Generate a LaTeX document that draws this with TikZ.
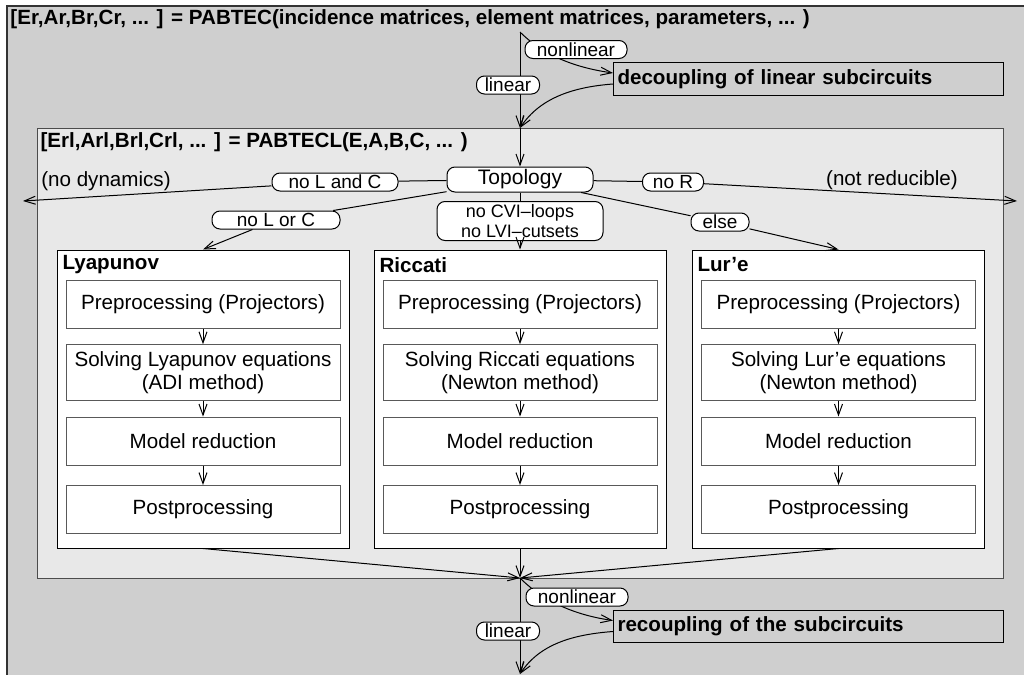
\documentclass[tikz,border=0pt]{standalone}
\usepackage{fontspec}
\setmainfont{Liberation Sans}
\usetikzlibrary{arrows.meta}
\definecolor{outergray}{RGB}{207,207,207}
\definecolor{innergray}{RGB}{232,232,232}
\tikzset{
  flow/.style={-{Straight Barb[length=5.5pt,width=4pt]}},
  pill/.style={draw, fill=white, rounded corners=4pt, inner sep=0.5pt, minimum height=9pt, font=\fontsize{9.5}{10}\selectfont},
  method/.style={draw, fill=white, minimum width=146pt, minimum height=149pt},
  stepbox/.style={draw=black!65, fill=white, minimum width=137pt, minimum height=24pt, align=center, font=\fontsize{10.3}{11.5}\selectfont},
  couple/.style={draw, fill=outergray, anchor=west, minimum height=15pt, text width=191pt, align=left, inner xsep=2pt, font=\fontsize{10.3}{12}\bfseries},
  heading/.style={anchor=west, inner sep=0pt, font=\fontsize{10.3}{12}\bfseries},
  remark/.style={font=\fontsize{10.3}{12}\selectfont},
}
\begin{document}
\begin{tikzpicture}[x=0.5pt, y=-0.5pt, line width=0.5pt]
  \useasboundingbox (0,0) rectangle (1024,675);
  \clip (0,0) rectangle (1024,675);

  % frames
  \draw[fill=outergray, draw=black!80, line width=0.6pt] (7,6) rectangle (1040,700);
  \draw[fill=innergray, draw=black!70, line width=0.5pt] (37,128) rectangle (1003,578);

  % titles
  \node[heading] (pabtec) at (10,19) {[Er,Ar,Br,Cr, ... ] = PABTEC(incidence matrices, element matrices, parameters, ... )};
  \node[heading] (pabtecl) at (40,142) {[Erl,Arl,Brl,Crl, ... ] = PABTECL(E,A,B,C, ... )};

  % decoupling
  \coordinate (split) at (520,32);
  \coordinate (join) at (520,128);
  \node[couple] (dec) at (613,79) {decoupling of linear subcircuits};
  \draw[flow] (split) -- (join);
  \draw[flow] (split) .. controls +(25,25) and +(-35,-5) .. ([yshift=3pt]dec.west);
  \draw[flow] ([yshift=-2.5pt]dec.west) .. controls +(-40,3) and +(20,-30) .. (join);
  \node[pill, minimum width=51pt] (nonlin) at (576,49.5) {nonlinear};
  \node[pill, minimum width=31.5pt] (lin) at (508,85) {linear};

  % topology
  \node[pill, minimum width=73pt, minimum height=12.5pt, font=\fontsize{10.5}{12}\selectfont] (topo) at (520,179.5) {Topology};
  \draw[flow] (join) -- (topo);

  \coordinate (nodyn) at (23,201);
  \coordinate (noreduce) at (1017,201);
  \node[pill, minimum width=63pt] (nolc) at (335,182) {no L and C};
  \draw (topo) -- (nolc);
  \draw[flow] (nolc) -- (nodyn);
  \node[remark] (nodyntext) at (106,181) {(no dynamics)};

  \node[pill, minimum width=30.5pt] (nor) at (673,182) {no R};
  \draw (topo) -- (nor);
  \draw[flow] (nor) -- (noreduce);
  \node[remark] (noredtext) at (892,180) {(not reducible)};

  \node[pill, minimum width=64pt] (nolorc) at (276,220) {no L or C};
  \node[pill, minimum width=83pt, minimum height=19.5pt, align=center, font=\fontsize{9}{10}\selectfont] (cvi) at (520,221) {no CVI--loops\\no LVI--cutsets};
  \node[pill, minimum width=29pt] (else) at (720,222) {else};

  % method boxes
  \node[method] (lya) at (203,399) {};
  \node[method] (ric) at (520,399) {};
  \node[method] (lur) at (838.5,399) {};

  \draw (topo) -- (nolorc);
  \draw[flow] (nolorc) -- (lya.north);
  \draw (topo) -- (cvi);
  \draw[flow] (cvi) -- (ric.north);
  \draw (topo) -- (else);
  \draw[flow] (else) -- (lur.north);

  % lyapunov
  \node[heading] (lyatitle) at (62,265) {Lyapunov};
  \node[stepbox] (lyapre) at (203,304) {Preprocessing (Projectors)};
  \node[stepbox] (lyasol) at (203,372.5) {Solving Lyapunov equations\\(ADI method)};
  \node[stepbox] (lyared) at (203,441) {Model reduction};
  \node[stepbox] (lyapost) at (203,509.5) {Postprocessing};
  \draw[flow] (lyapre) -- (lyasol);
  \draw[flow] (lyasol) -- (lyared);
  \draw[flow] (lyared) -- (lyapost);

  % riccati
  \node[heading] (rictitle) at (379,265) {Riccati};
  \node[stepbox] (ricpre) at (520,304) {Preprocessing (Projectors)};
  \node[stepbox] (ricsol) at (520,372.5) {Solving Riccati equations\\(Newton method)};
  \node[stepbox] (ricred) at (520,441) {Model reduction};
  \node[stepbox] (ricpost) at (520,509.5) {Postprocessing};
  \draw[flow] (ricpre) -- (ricsol);
  \draw[flow] (ricsol) -- (ricred);
  \draw[flow] (ricred) -- (ricpost);

  % lur'e
  \node[heading] (lurtitle) at (697,265) {Lur'e};
  \node[stepbox] (lurpre) at (838.5,304) {Preprocessing (Projectors)};
  \node[stepbox] (lursol) at (838.5,372.5) {Solving Lur'e equations\\(Newton method)};
  \node[stepbox] (lurred) at (838.5,441) {Model reduction};
  \node[stepbox] (lurpost) at (838.5,509.5) {Postprocessing};
  \draw[flow] (lurpre) -- (lursol);
  \draw[flow] (lursol) -- (lurred);
  \draw[flow] (lurred) -- (lurpost);

  % merge
  \coordinate (join2) at (520,578);
  \draw[flow] (lya.south) -- (join2);
  \draw[flow] (ric.south) -- (join2);
  \draw[flow] (lur.south) -- (join2);

  % recoupling
  \coordinate (out) at (520,674);
  \node[couple, minimum height=14.5pt] (rec) at (613,626.5) {recoupling of the subcircuits};
  \draw[flow] (join2) -- (out);
  \draw[flow] (join2) .. controls +(25,25) and +(-35,-5) .. ([yshift=3pt]rec.west);
  \draw[flow] ([yshift=-2.5pt]rec.west) .. controls +(-40,3) and +(20,-30) .. (out);
  \node[pill, minimum width=51pt] (nonlin2) at (577,597) {nonlinear};
  \node[pill, minimum width=31.5pt] (lin2) at (508,631) {linear};
\end{tikzpicture}
\end{document}
